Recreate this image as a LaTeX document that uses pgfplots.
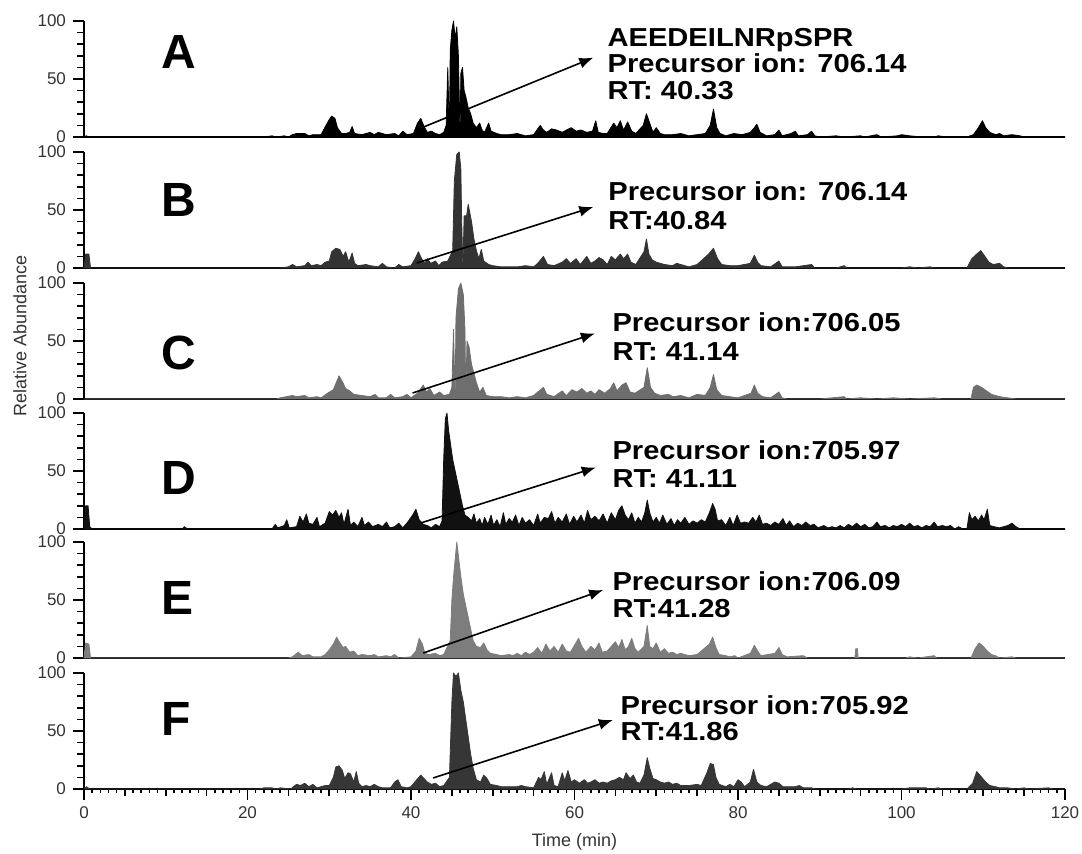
\documentclass[border=0pt]{standalone}
\usepackage{pgfplots}
\pgfplotsset{compat=1.18}
\usepackage{fontspec}
\setmainfont{Liberation Sans}
\usepackage{graphicx}
\usetikzlibrary{arrows.meta}
\definecolor{cA}{HTML}{000000}
\definecolor{cB}{HTML}{333333}
\definecolor{cC}{HTML}{6E6E6E}
\definecolor{cD}{HTML}{111111}
\definecolor{cE}{HTML}{7D7D7D}
\definecolor{cF}{HTML}{363636}
\pgfplotsset{
 panel/.style={scale only axis, width=490.5pt, height=58pt,
  xmin=0, xmax=120, ymin=0, ymax=100,
  axis x line*=bottom, axis y line*=left, xtick=\empty,
  ytick={0,50,100}, minor ytick={10,20,30,40,60,70,80,90},
  tick align=outside, major tick length=5.5pt, minor tick length=3.5pt,
  tick style={line width=0.8pt, black},
  x axis line style={line width=1.4pt},
  y axis line style={line width=0.9pt},
  tick label style={font=\fontsize{8.5}{9}\selectfont, text=black!80},
  /pgf/number format/assume math mode=true,
  anchor=north west, clip=false},
 trace/.style={draw=#1, fill=#1, line width=0.4pt, line join=round},
}
\newcommand{\ann}[1]{\scalebox{1.12}[1]{\fontsize{13}{14}\selectfont\bfseries #1}}
\newcommand{\plab}[1]{\fontsize{24}{26}\selectfont\bfseries #1}
\tikzset{annarrow/.style={-{Latex[length=7pt,width=5.5pt]}, line width=0.8pt, black}}
\begin{document}
\begin{tikzpicture}
\useasboundingbox (-42pt,10.5pt) rectangle (499pt,-416.5pt);
% ---------- A
\begin{axis}[panel, at={(0pt,0pt)}]
\addplot[trace=cA] coordinates {(0,0) (0.3,1) (0.6,0) (22,0) (23,1) (23.5,0) (24.5,1) (25,0) (25.5,2) (26,3) (27,3) (27.5,1) (28,2) (29,2) (29.6,10) (30,15) (30.3,18) (30.7,16) (31,8) (31.5,3) (32,3) (32.5,4) (32.8,9) (33.1,3) (34,2) (35,4) (35.5,2) (36,4) (36.5,3) (37,2) (38,3) (38.5,1) (39,5) (39.5,2) (40.3,3) (40.8,12) (41.2,16) (41.6,9) (42,4) (42.5,5) (43,3) (43.5,2) (44,4) (44.3,10) (44.5,60) (44.7,0) (44.8,75) (45.0,92) (45.2,100) (45.4,85) (45.6,95) (45.8,70) (46.0,0) (46.1,55) (46.3,60) (46.5,40) (46.7,35) (47,25) (47.3,20) (47.6,12) (48,8) (48.4,12) (48.7,6) (49,4) (49.5,12) (49.8,5) (50.5,3) (51,2) (52,2) (53,3) (54,1) (55,2) (55.8,10) (56.2,6) (56.6,4) (57.2,7) (57.8,6) (58.5,4) (59,6) (59.6,8) (60.2,5) (60.8,6) (61.5,4) (62.2,5) (62.6,14) (62.9,4) (63.5,3) (64,3) (64.8,12) (65.2,8) (65.6,14) (66,6) (66.5,13) (67,5) (67.5,3) (68.4,10) (68.8,20) (69.2,12) (69.6,4) (70,8) (70.5,3) (71,2) (72,2) (73,3) (74,1) (75,2) (76,3) (76.6,10) (77,24) (77.4,8) (77.8,3) (78.5,1) (79.5,3) (80.5,2) (81.5,4) (82,8) (82.3,11) (82.7,4) (83.5,1) (84.5,2) (85,6) (85.4,1) (86.5,3) (87,5) (87.4,1) (88.5,2) (89,5) (89.4,1) (90,0) (92,1) (93,0) (95,1) (95.5,0) (97,2) (97.5,0) (99.5,1) (100,2) (101,1) (102.5,0) (104,0) (104.5,1) (105.5,0) (108,0) (108.8,2) (109.4,8) (109.9,14) (110.3,8) (110.8,4) (111.5,2) (112,3) (112.5,1) (113.5,2) (114.5,1) (115,0) (120,0)} \closedcycle;
\node[anchor=west, inner sep=0pt] at (axis cs:9.4,73) {\plab{A}};
\draw[annarrow] (axis cs:41.5,8.5) -- (axis cs:62.3,68.4);
\node[anchor=base west, inner sep=0pt] at (axis cs:64,77.8) {\ann{AEEDEILNRpSPR}};
\node[anchor=base west, inner sep=0pt] at (axis cs:64,55.6) {\ann{Precursor ion: 706.14}};
\node[anchor=base west, inner sep=0pt] at (axis cs:64,32.5) {\ann{RT: 40.33}};
\end{axis}
% ---------- B
\begin{axis}[panel, at={(0pt,-65.5pt)}]
\addplot[trace=cB] coordinates {(0,0) (0.2,12) (0.6,12) (0.8,0) (24,0) (25,1) (25.5,3) (26,1) (27,2) (27.4,5) (27.8,2) (28.5,3) (29,2) (29.5,5) (30,6) (30.3,14) (30.8,17) (31.3,16) (31.7,10) (32,14) (32.4,5) (32.8,13) (33.1,4) (33.5,2) (34.5,3) (35,2) (36,1) (36.5,4) (37,1) (38,0) (38.5,3) (39,1) (40,2) (40.5,8) (40.9,14) (41.3,8) (41.7,4) (42,8) (42.4,4) (43,6) (43.4,2) (43.8,5) (44.5,6) (45.1,15) (45.3,75) (45.6,98) (45.9,100) (46.1,85) (46.2,40) (46.35,0) (46.5,45) (46.8,45) (47,55) (47.4,40) (47.7,25) (48,15) (48.3,8) (48.6,16) (48.9,6) (49.5,3) (50,2) (51,1) (52,1) (53,1) (54,2) (55,1) (55.5,4) (56.2,10) (56.7,3) (57.5,2) (58.5,5) (59,8) (59.5,4) (60.2,8) (60.7,3) (61.5,10) (62,4) (62.5,6) (63,9) (63.5,7) (64,3) (64.5,10) (65,7) (65.6,12) (66,8) (66.5,12) (66.9,5) (67.5,3) (68.5,14) (68.8,25) (69.1,12) (69.5,7) (70,5) (71,3) (72,2) (72.5,4) (73,3) (74,1) (75,3) (76.4,12) (77,17) (77.5,8) (78,3) (79,2) (80,2) (81.5,4) (82,11) (82.4,5) (82.8,2) (84,1) (85,6) (85.4,1) (87,1) (89,3) (89.4,0) (92,0) (93,2) (93.3,0) (100,0) (101,1) (102,0) (103.5,1) (104,0) (108,0) (108.6,8) (109.2,12) (109.7,15) (110.2,10) (110.7,5) (111.2,3) (112,4) (112.5,1) (113,0) (120,0)} \closedcycle;
\node[anchor=west, inner sep=0pt] at (axis cs:9.4,59) {\plab{B}};
\draw[annarrow] (axis cs:40.7,4.3) -- (axis cs:62.3,52.6);
\node[anchor=base west, inner sep=0pt] at (axis cs:64.1,57.8) {\ann{Precursor ion: 706.14}};
\node[anchor=base west, inner sep=0pt] at (axis cs:64.1,32.8) {\ann{RT:40.84}};
\end{axis}
% ---------- C
\begin{axis}[panel, at={(0pt,-131pt)}]
\addplot[trace=cC] coordinates {(0,0) (23.5,0) (24,1) (25.5,3) (26,2) (27,3) (27.5,1) (28.5,2) (29,1) (29.8,5) (30.5,8) (31.2,20) (31.6,15) (32,9) (32.5,7) (33,4) (34,3) (35,2) (35.6,4) (36,1) (37,1) (37.5,4) (38,1) (39,2) (39.5,4) (40,1) (40.8,5) (41.5,12) (41.9,6) (42.3,9) (42.8,3) (43.5,6) (44,3) (44.7,4) (45.0,10) (45.2,60) (45.4,0) (45.5,70) (45.8,95) (46.1,100) (46.4,90) (46.6,60) (46.7,0) (46.85,50) (47.1,45) (47.4,30) (47.7,22) (48,14) (48.4,6) (48.8,10) (49.2,3) (50,2) (51,2) (52,1) (53,2) (54,1) (55,3) (56.2,10) (56.6,4) (57.5,2) (58.5,7) (59,3) (59.7,8) (60.3,6) (60.9,9) (61.5,5) (62,7) (62.5,4) (63,8) (63.7,5) (64.4,9) (64.8,14) (65.2,7) (65.8,12) (66.3,14) (66.8,6) (67.4,5) (68.5,10) (68.9,27) (69.3,10) (69.8,5) (70.5,3) (71.5,4) (72,2) (73,3) (74,1) (75,4) (76,3) (76.6,10) (77,21) (77.4,8) (78,3) (79,2) (80,1) (81.6,5) (82,12) (82.4,5) (83,2) (84,1) (85,6) (85.4,1) (86,0) (90,0) (93,2) (93.3,0) (95,1) (97,0) (99,1) (101,0) (104,1) (105,0) (108.5,0) (108.8,10) (109.2,12) (109.8,10) (110.4,7) (111,4) (112,2) (113,1) (114,0) (120,0)} \closedcycle;
\node[anchor=west, inner sep=0pt] at (axis cs:9.4,40) {\plab{C}};
\draw[annarrow] (axis cs:40.2,5.2) -- (axis cs:62.5,56.5);
\node[anchor=base west, inner sep=0pt] at (axis cs:64.6,58) {\ann{Precursor ion:706.05}};
\node[anchor=base west, inner sep=0pt] at (axis cs:64.6,33) {\ann{RT: 41.14}};
\end{axis}
% ---------- D
\begin{axis}[panel, at={(0pt,-196pt)}]
\addplot[trace=cD] coordinates {(0,0) (0.2,20) (0.5,20) (0.7,2) (1,0) (12,0) (12.3,2) (12.6,0) (23,0) (23.4,4) (23.7,1) (24.5,3) (24.8,8) (25.1,1) (26,2) (26.4,11) (26.8,6) (27.2,13) (27.5,5) (28,4) (28.5,10) (28.8,2) (29.5,5) (30,15) (30.4,12) (30.8,16) (31.2,10) (31.5,14) (31.8,4) (32.3,17) (32.6,3) (33,6) (33.5,2) (34,10) (34.3,3) (34.8,6) (35.3,2) (36,4) (36.5,2) (37,6) (37.4,1) (38,2) (38.5,5) (39,1) (39.6,6) (40.2,12) (40.6,17) (41,8) (41.5,4) (42,3) (42.5,1) (43,4) (43.5,2) (43.8,7) (44.0,60) (44.2,95) (44.4,100) (44.6,85) (44.8,75) (45.1,60) (45.4,50) (45.7,40) (46,30) (46.3,20) (46.6,12) (47,10) (47.4,7) (47.7,13) (48,5) (48.4,9) (48.7,3) (49,10) (49.4,4) (49.8,12) (50.1,3) (50.5,8) (50.9,2) (51.3,14) (51.6,4) (52,9) (52.4,6) (52.8,12) (53.2,3) (53.6,10) (54,5) (54.5,8) (55,3) (55.5,13) (55.8,5) (56.3,10) (56.8,9) (57.2,15) (57.6,5) (58,10) (58.5,6) (59,13) (59.4,4) (59.9,11) (60.3,6) (60.8,12) (61.2,5) (61.6,16) (62,8) (62.5,11) (63,7) (63.5,13) (64,5) (64.5,14) (65,8) (65.4,16) (65.8,20) (66.2,12) (66.6,8) (67,14) (67.4,5) (67.8,10) (68.2,6) (68.6,14) (68.9,25) (69.2,14) (69.6,6) (70,10) (70.4,5) (70.8,12) (71.3,4) (71.8,9) (72.2,3) (72.6,8) (73,5) (73.5,10) (74,4) (74.5,7) (75,5) (75.5,8) (76,6) (76.5,14) (76.9,22) (77.2,17) (77.5,7) (78,8) (78.5,3) (79,10) (79.4,3) (79.9,12) (80.3,5) (80.8,6) (81.3,5) (81.8,10) (82.2,6) (82.6,12) (83,4) (83.5,5) (84,3) (84.5,6) (85,4) (85.5,9) (85.9,3) (86.3,7) (86.8,2) (87.3,5) (87.8,3) (88.3,6) (88.8,3) (89.3,4) (89.8,1) (90.5,3) (91,1) (91.5,2) (92,1) (92.5,3) (93,1) (93.5,4) (94,2) (94.5,5) (95,2) (95.5,4) (96,1) (96.5,2) (97,6) (97.4,2) (98,3) (98.5,1) (99,3) (99.5,2) (100,4) (100.5,2) (101,5) (101.5,2) (102,3) (102.5,1) (103,3) (103.5,2) (104,6) (104.4,2) (105,3) (105.5,2) (106,3) (106.5,0) (107,2) (107.5,0) (108,0) (108.3,14) (108.6,8) (109,11) (109.4,7) (109.8,12) (110.1,8) (110.5,17) (110.8,3) (111.3,2) (112,1) (113,3) (113.5,5) (114,2) (114.5,0) (120,0)} \closedcycle;
\node[anchor=west, inner sep=0pt] at (axis cs:9.4,44) {\plab{D}};
\draw[annarrow] (axis cs:41.2,5.2) -- (axis cs:62.6,53);
\node[anchor=base west, inner sep=0pt] at (axis cs:64.6,60) {\ann{Precursor ion:705.97}};
\node[anchor=base west, inner sep=0pt] at (axis cs:64.6,35.6) {\ann{RT: 41.11}};
\end{axis}
% ---------- E
\begin{axis}[panel, at={(0pt,-260.5pt)}]
\addplot[trace=cE] coordinates {(0,0) (0.2,13) (0.6,12) (0.8,0) (25,0) (25.5,1) (26.2,5) (26.7,2) (27.5,3) (28,1) (29,1) (29.5,3) (30,7) (30.5,12) (30.9,18) (31.3,13) (31.7,9) (32,10) (32.5,5) (33,6) (33.5,2) (34,3) (35,2) (35.5,3) (36,1) (37,2) (37.5,1) (38,3) (38.5,0) (40,1) (40.6,6) (41,17) (41.4,12) (41.7,4) (42.2,3) (43,4) (43.5,2) (44,3) (44.8,15) (45.0,50) (45.2,70) (45.4,85) (45.6,100) (45.8,88) (46.1,70) (46.4,55) (46.7,45) (47,35) (47.3,25) (47.6,15) (48,10) (48.5,9) (48.9,13) (49.3,7) (49.7,4) (50.5,3) (51,2) (52,3) (52.5,2) (53,4) (53.5,2) (54,5) (54.5,3) (55,5) (55.5,9) (56,4) (56.5,12) (57,6) (57.5,10) (58,5) (58.5,12) (59,6) (59.5,5) (60,11) (60.5,17) (60.9,10) (61.4,5) (62,10) (62.5,7) (63,13) (63.4,5) (64,6) (64.5,10) (65,14) (65.4,9) (65.8,16) (66.2,7) (66.6,10) (67,17) (67.4,8) (67.8,5) (68.5,10) (68.9,28) (69.2,10) (69.6,8) (70,13) (70.5,5) (71,8) (71.5,4) (72,5) (72.5,3) (73,4) (74,2) (75,3) (76.5,12) (76.9,18) (77.3,9) (77.7,3) (78.5,2) (79,1) (79.6,2) (80,0) (81.5,4) (82,11) (82.4,6) (82.8,2) (84.5,4) (85,9) (85.4,3) (86,1) (88,2) (88.5,0) (94.3,0) (94.4,8) (94.6,8) (94.7,0) (100.5,0) (101,1) (102,0) (103,1) (104,2) (104.3,0) (108.5,0) (109,8) (109.5,13) (110,10) (110.5,6) (111,3) (111.5,2) (112,0) (113.5,1) (114,0) (120,0)} \closedcycle;
\node[anchor=west, inner sep=0pt] at (axis cs:9.4,52) {\plab{E}};
\draw[annarrow] (axis cs:41.5,4.3) -- (axis cs:63.5,58.6);
\node[anchor=base west, inner sep=0pt] at (axis cs:64.6,58.6) {\ann{Precursor ion:706.09}};
\node[anchor=base west, inner sep=0pt] at (axis cs:64.6,35.3) {\ann{RT:41.28}};
\end{axis}
% ---------- F
\begin{axis}[panel, at={(0pt,-326pt)},
  xtick={0,20,...,120}, minor xtick={5,10,...,115},
  extra x ticks={1,2,...,119}, extra x tick labels={},
  extra tick style={major tick length=2pt},
  xlabel={Time (min)},
  xlabel style={font=\fontsize{9}{10}\selectfont, text=black!80, yshift=7pt}]
\addplot[trace=cF] coordinates {(0,0) (0.3,2) (0.7,0) (21.5,0) (22,1) (23,1) (23.5,0) (24,1) (25.3,0) (25.6,2) (26,4) (26.5,3) (27,5) (27.5,2) (28,4) (28.5,1) (29,2) (29.5,3) (30,3) (30.5,10) (30.8,19) (31.2,20) (31.6,16) (31.9,9) (32.3,14) (32.6,13) (33,6) (33.3,15) (33.6,5) (34,2) (34.5,3) (35,2) (35.5,4) (36,2) (36.5,1) (37.5,1) (38,6) (38.4,8) (38.8,2) (39.5,1) (40,2) (40.7,8) (41.2,12) (41.6,9) (42,6) (42.5,4) (43,5) (43.5,2) (44,3) (44.7,10) (45.0,75) (45.2,100) (45.5,97) (45.8,100) (46.1,85) (46.4,75) (46.7,60) (47,45) (47.3,30) (47.6,18) (48,8) (48.5,6) (48.9,12) (49.3,9) (49.7,4) (50.5,3) (51,2) (52,2) (53,2) (53.5,3) (54,2) (55,1) (55.6,10) (55.9,8) (56.3,15) (56.6,4) (57.2,14) (57.5,3) (58,2) (58.5,14) (58.8,7) (59.2,16) (59.6,6) (60,8) (60.6,5) (61.2,8) (61.6,5) (62,6) (62.5,8) (63,5) (63.5,6) (64,5) (64.5,7) (65,8) (65.5,10) (66,8) (66.3,14) (66.8,9) (67.2,12) (67.6,6) (68,5) (68.5,12) (68.9,27) (69.2,18) (69.6,9) (70,8) (70.5,6) (71,5) (71.5,6) (72,4) (72.5,5) (73,3) (74,3) (75,4) (75.5,3) (76.2,14) (76.6,22) (77,21) (77.3,10) (77.7,4) (78.5,2) (79,4) (79.5,2) (80,8) (80.4,6) (80.8,2) (81.5,6) (81.9,17) (82.3,6) (82.8,3) (83.5,2) (84,4) (84.5,6) (85,5) (85.5,2) (86,2) (87,2) (87.5,3) (88,1) (89,1) (89.5,0) (93.5,0) (94,1) (94.5,0) (100,0) (101,1) (103,1) (103.5,0) (104.5,1) (105,0) (108,0) (108.7,5) (109.2,15) (109.7,11) (110.3,6) (110.8,3) (111.5,2) (112,1) (113,1) (114,0) (115,1) (115.5,0) (118,1) (118.5,0) (120,0)} \closedcycle;
\node[anchor=west, inner sep=0pt] at (axis cs:9.4,60) {\plab{F}};
\draw[annarrow] (axis cs:42.7,9.5) -- (axis cs:64.7,59.5);
\node[anchor=base west, inner sep=0pt] at (axis cs:65.6,63.8) {\ann{Precursor ion:705.92}};
\node[anchor=base west, inner sep=0pt] at (axis cs:65.6,42.2) {\ann{RT:41.86}};
\end{axis}
\node[rotate=90, font=\fontsize{9}{10}\selectfont, text=black!80] at (-32pt,-157.5pt) {Relative Abundance};
\end{tikzpicture}
\end{document}
